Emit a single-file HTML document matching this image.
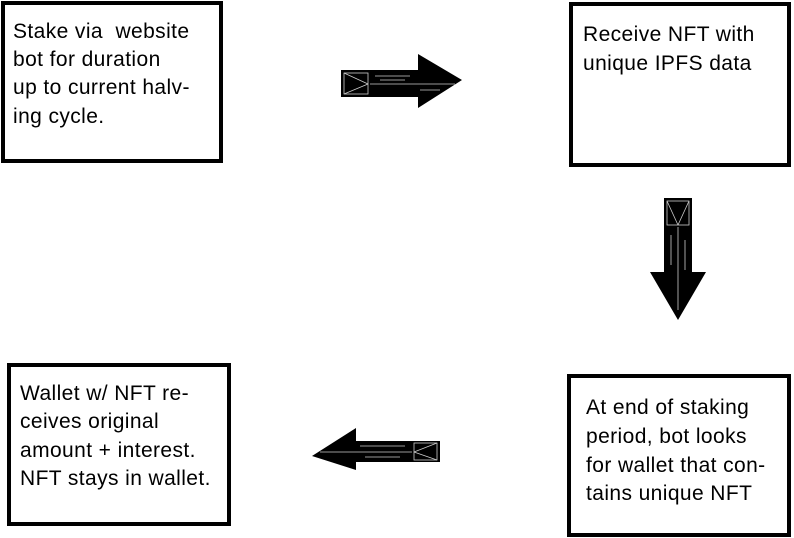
<!DOCTYPE html>
<html><head><style>
html,body{margin:0;padding:0;background:#fff;}
svg{display:block;}
text{font-family:"Liberation Sans",sans-serif;font-size:21px;letter-spacing:0.4px;fill:#000;}
</style></head><body>
<svg width="794" height="538" viewBox="0 0 794 538" xmlns="http://www.w3.org/2000/svg">
<rect x="0" y="0" width="794" height="538" fill="#fff"/>
<g fill="none" stroke="#000" stroke-width="4">
<rect x="3" y="3" width="218" height="158"/>
<rect x="571" y="4" width="218" height="161"/>
<rect x="569" y="376" width="220" height="159"/>
<rect x="9" y="365" width="220" height="159"/>
</g>
<text x="13" y="38">Stake via&#160; website</text>
<text x="13" y="66">bot for duration</text>
<text x="13" y="94">up to current halv-</text>
<text x="13" y="123">ing cycle.</text>
<text x="583" y="41">Receive NFT with</text>
<text x="583" y="70">unique IPFS data</text>
<text x="586" y="414">At end of staking</text>
<text x="586" y="443">period, bot looks</text>
<text x="586" y="472">for wallet that con-</text>
<text x="586" y="500">tains unique NFT</text>
<text x="20" y="400">Wallet w/ NFT re-</text>
<text x="20" y="428">ceives original</text>
<text x="20" y="457">amount + interest.</text>
<text x="20" y="485">NFT stays in wallet.</text>
<!-- right arrow -->
<polygon points="341,70 418,70 418,54 462,80 418,108 418,97 341,97" fill="#000"/>
<g stroke="#ccc" stroke-width="0.8" fill="none">
<rect x="344" y="73" width="24" height="21"/>
<line x1="344" y1="73" x2="368" y2="84"/><line x1="344" y1="94" x2="368" y2="84"/>
<line x1="370" y1="84" x2="455" y2="84"/>
<line x1="375" y1="76" x2="410" y2="76"/><line x1="380" y1="80" x2="405" y2="80"/>
<line x1="420" y1="90" x2="440" y2="90"/>
</g>
<!-- down arrow -->
<polygon points="664,198 692,198 692,272 706,272 678,320 650,272 664,272" fill="#000"/>
<g stroke="#ccc" stroke-width="0.8" fill="none">
<rect x="667" y="201" width="22" height="24"/>
<line x1="667" y1="201" x2="678" y2="225"/><line x1="689" y1="201" x2="678" y2="225"/>
<line x1="678" y1="227" x2="678" y2="310"/>
<line x1="671" y1="235" x2="671" y2="265"/><line x1="685" y1="240" x2="685" y2="270"/>
</g>
<!-- left arrow -->
<polygon points="440,441 356,441 356,428 312,456 356,470 356,462 440,462" fill="#000"/>
<g stroke="#ccc" stroke-width="0.8" fill="none">
<rect x="414" y="443" width="23" height="17"/>
<line x1="437" y1="443" x2="414" y2="452"/><line x1="437" y1="460" x2="414" y2="452"/>
<line x1="320" y1="452" x2="412" y2="452"/>
<line x1="360" y1="446" x2="405" y2="446"/><line x1="365" y1="457" x2="400" y2="457"/>
</g>
</svg>
</body></html>
